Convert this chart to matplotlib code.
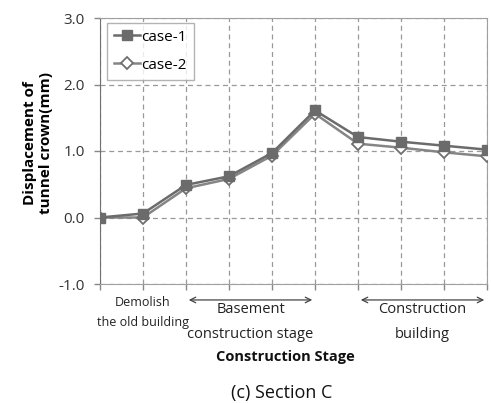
import matplotlib
matplotlib.use("Agg")
import matplotlib.pyplot as plt

stages = list(range(10))
case1 = [0.0, 0.06, 0.49, 0.62, 0.97, 1.61, 1.21, 1.14, 1.08, 1.02]
case2 = [0.0, 0.0, 0.44, 0.58, 0.93, 1.56, 1.11, 1.05, 0.98, 0.92]
yticks = [-1.0, 0.0, 1.0, 2.0, 3.0]
series_names = ["case-1", "case-2"]

plt.rcParams['font.family'] = ['Open Sans', 'DejaVu Sans']

fig = plt.figure(figsize=(4.91, 4.03), dpi=100)
ax = fig.add_axes([100/491, 1-284/403, 387/491, 266/403])

ax.plot(stages, case1, color='#6b6b6b', lw=1.8, marker='s', ms=7.5,
        mfc='#6b6b6b', mec='#6b6b6b', label=series_names[0], zorder=4)
ax.plot(stages, case2, color='#858585', lw=1.8, marker='D', ms=6.5,
        mfc='white', mec='#707070', mew=1.3, label=series_names[1], zorder=3)

ax.set_xlim(0, 9)
ax.set_ylim(-1, 3)
ax.set_yticks(yticks)
ax.set_yticklabels([f"{v:.1f}" for v in yticks], fontsize=11, color='#333333')
ax.set_xticks(stages)
ax.set_xticklabels([])
ax.tick_params(axis='both', direction='out', length=4, color='#888888', width=1)
ax.tick_params(axis='y', pad=7)
ax.grid(True, ls=(0, (4, 3)), color='#999999', lw=0.9)
ax.set_axisbelow(True)
for s in ['top', 'right', 'bottom']:
    ax.spines[s].set_color('#a0a0a0')
ax.spines['left'].set_color('#707070')

ax.set_ylabel("Displacement of\ntunnel crown(mm)", fontsize=11, fontweight='bold',
              linespacing=1.15)
ax.yaxis.set_label_coords(-0.122, 0.53)

leg = ax.legend(loc='upper left', fontsize=11, frameon=True, fancybox=False,
                borderpad=0.45, handlelength=1.7, handletextpad=0.1,
                labelspacing=0.85, borderaxespad=0, bbox_to_anchor=(0.018, 0.982))
leg.get_frame().set_edgecolor('#a0a0a0')
leg.get_frame().set_linewidth(1.0)

tr = ax.get_xaxis_transform()
ax.annotate('', xy=(2, -0.060), xytext=(5, -0.060), xycoords=tr, textcoords=tr,
            arrowprops=dict(arrowstyle='<->', color='#444444', lw=0.9), annotation_clip=False)
ax.annotate('', xy=(6, -0.060), xytext=(9, -0.060), xycoords=tr, textcoords=tr,
            arrowprops=dict(arrowstyle='<->', color='#444444', lw=0.9), annotation_clip=False)

ax.text(1.0, -0.071, "Demolish", transform=tr, ha='center', va='center', fontsize=9, color='#222222')
ax.text(1.0, -0.143, "the old building", transform=tr, ha='center', va='center', fontsize=9, color='#222222')
ax.text(3.5, -0.094, "Basement", transform=tr, ha='center', va='center', fontsize=10.5, color='#222222')
ax.text(3.5, -0.188, "construction stage", transform=tr, ha='center', va='center', fontsize=10.5, color='#222222')
ax.text(7.5, -0.094, "Construction", transform=tr, ha='center', va='center', fontsize=10.5, color='#222222')
ax.text(7.5, -0.188, "building", transform=tr, ha='center', va='center', fontsize=10.5, color='#222222')
ax.text(4.3, -0.274, "Construction Stage", transform=tr, ha='center', va='center',
        fontsize=10.5, fontweight='bold', color='#111111')

fig.text(282/491, 1-393/403, "(c) Section C", ha='center', va='center', fontsize=13, color='#111111')

fig.savefig("out.png", dpi=100)
